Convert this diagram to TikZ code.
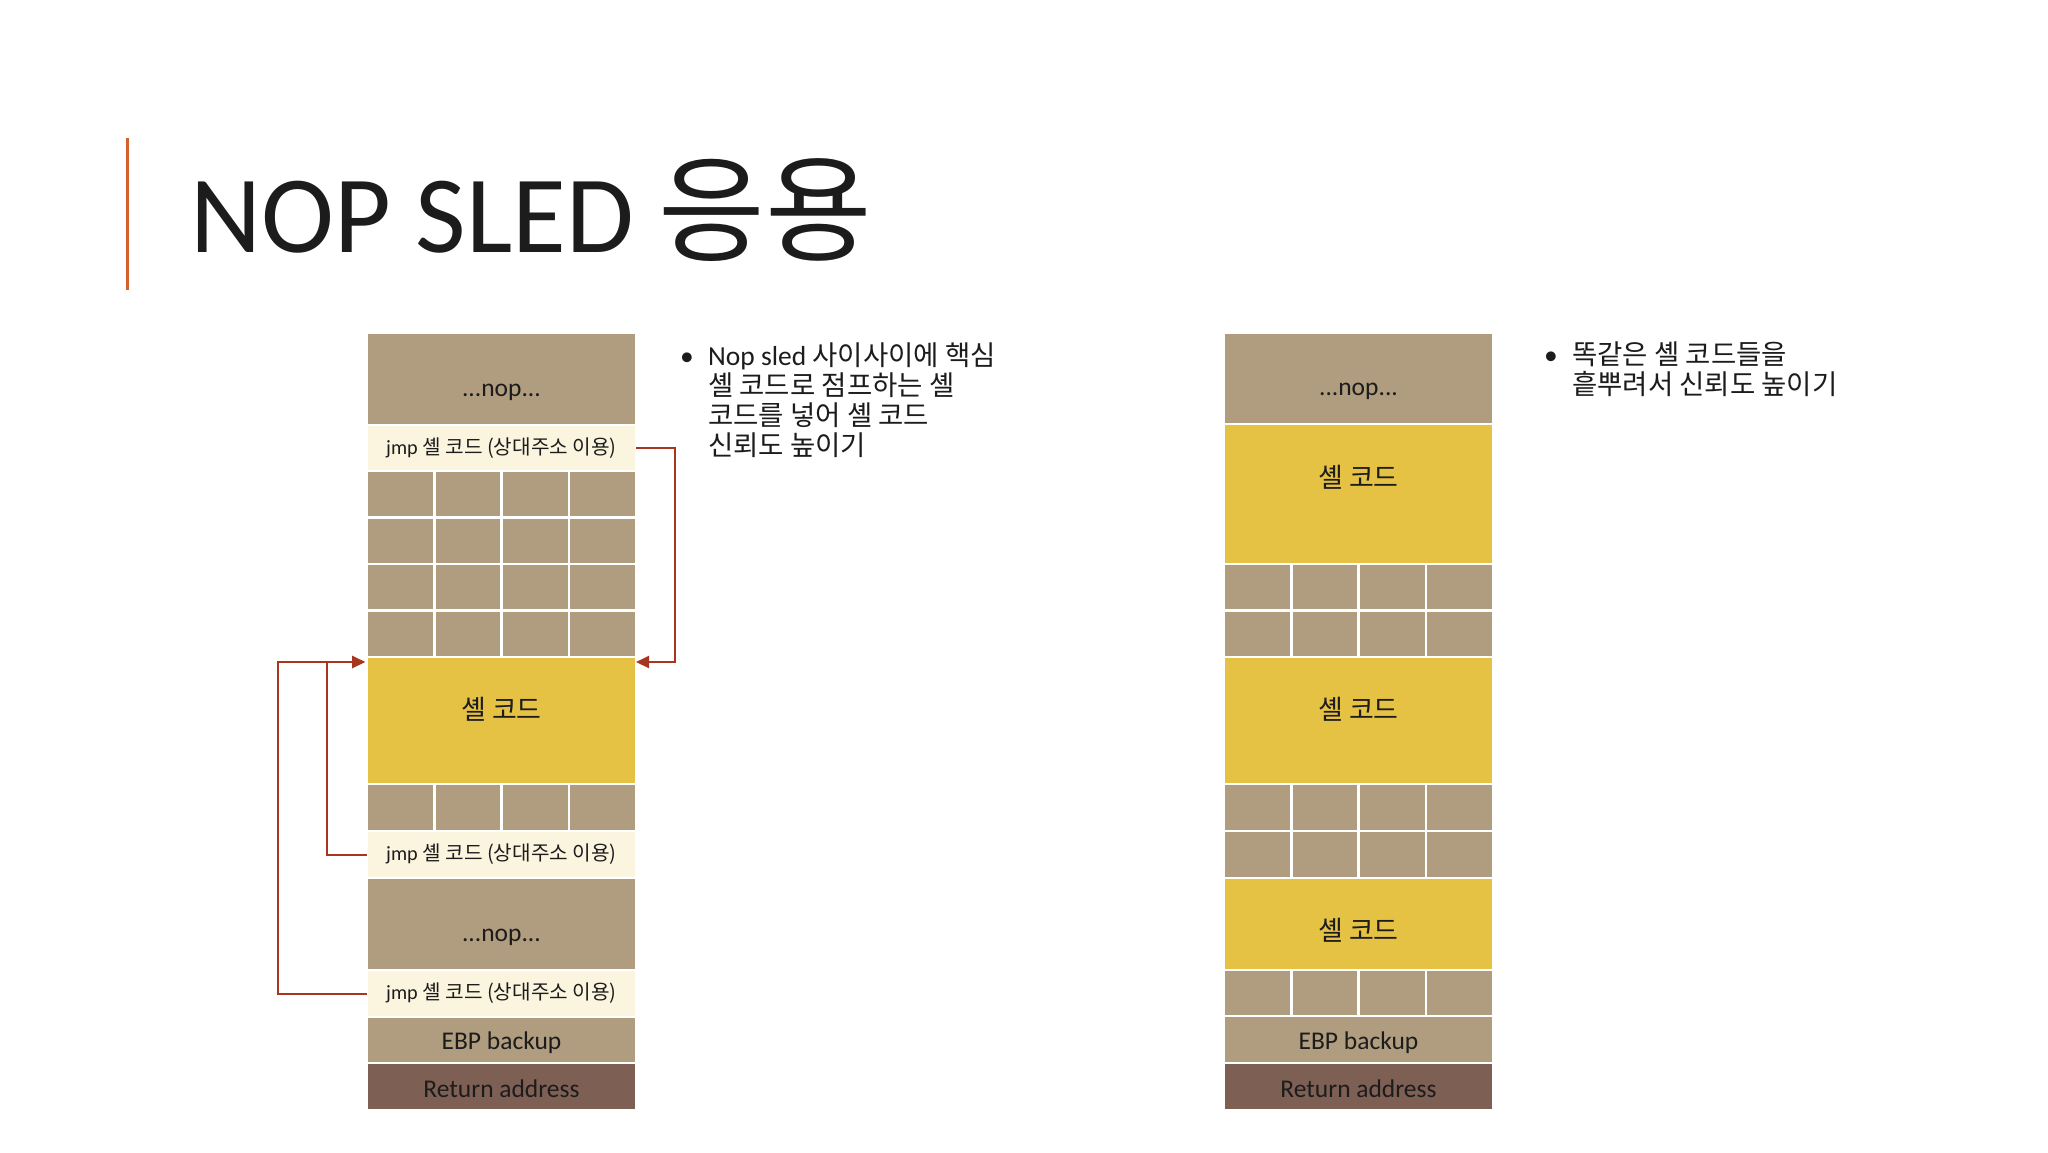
\documentclass[tikz,border=0pt]{standalone}
\usepackage{fontspec}
\setmainfont{Carlito}
\newfontfamily\kr{Noto Sans CJK KR}
\usetikzlibrary{arrows.meta}
\definecolor{nopcol}{HTML}{B09C7E}
\definecolor{jmpcol}{HTML}{FBF5DF}
\definecolor{yelcol}{HTML}{E5C144}
\definecolor{retcol}{HTML}{7E5F54}
\definecolor{arrowcol}{HTML}{A8361F}
\definecolor{barcol}{HTML}{D4622B}
\definecolor{txtcol}{HTML}{1C1C1C}
\begin{document}
\begin{tikzpicture}[x=1pt,y=-1pt,
  cell/.style={draw=white,line width=2.5pt,inner sep=0pt,outer sep=0pt,anchor=north west,minimum width=269pt},
  nopbox/.style={cell,fill=nopcol},
  jmpbox/.style={cell,fill=jmpcol},
  yelbox/.style={cell,fill=yelcol},
  retbox/.style={cell,fill=retcol},
  gridbox/.style={cell,fill=nopcol,minimum width=67.25pt,minimum height=46.5pt},
  lbl/.style={font=\fontsize{25.5}{30}\selectfont,text=txtcol,inner sep=0pt},
  klbl/.style={font=\fontsize{27}{30}\selectfont\kr,text=txtcol,inner sep=0pt},
  jlbl/.style={font=\fontsize{20.2}{23}\selectfont,text=txtcol,inner sep=0pt},
  btxt/.style={font=\fontsize{27.5}{30}\selectfont,text=txtcol,inner sep=0pt,anchor=base west},
  link/.style={draw=arrowcol,line width=2pt,-{Triangle[length=13pt,width=12pt]}}
]
\useasboundingbox (0,0) rectangle (2048,1152);
\fill[white] (0,0) rectangle (2048,1152);

% title
\draw[barcol,line width=3pt] (127,138) -- (127,290);
\node[anchor=base west,inner sep=0pt,font=\fontsize{110}{130}\selectfont,text=txtcol] (title) at (190,252) {NOP SLED {\kr\fontsize{116}{130}\selectfont 응용}};

% ---------- left stack ----------
\node[nopbox,minimum height=92pt] (nopA) at (367,333) {};
\node[jmpbox,minimum height=46pt] (jmpA) at (367,425) {};
\foreach \r/\yy in {1/471,2/517.5,3/564,4/610.5}
  \foreach \c in {0,...,3}
    \node[gridbox] (gA\r\c) at ({367+67.25*\c},\yy) {};
\node[yelbox,minimum height=127pt] (shellA) at (367,657) {};
\foreach \c in {0,...,3}
  \node[gridbox,minimum height=47pt] (gB\c) at ({367+67.25*\c},784) {};
\node[jmpbox,minimum height=47pt] (jmpB) at (367,831) {};
\node[nopbox,minimum height=92pt] (nopB) at (367,878) {};
\node[jmpbox,minimum height=47pt] (jmpC) at (367,970) {};
\node[nopbox,minimum height=46pt] (ebpA) at (367,1017) {};
\node[retbox,minimum height=47pt] (retA) at (367,1063) {};

\node[lbl] (tnopA) at ([yshift=-13pt]nopA.center) {...nop...};
\node[jlbl] (tjmpA) at (jmpA.center) {jmp {\kr 셸 코드 (상대주소 이용)}};
\node[klbl] (tshA) at ([yshift=11pt]shellA.center) {셸 코드};
\node[jlbl] (tjmpB) at (jmpB.center) {jmp {\kr 셸 코드 (상대주소 이용)}};
\node[lbl] (tnopB) at ([yshift=-13pt]nopB.center) {...nop...};
\node[jlbl] (tjmpC) at (jmpC.center) {jmp {\kr 셸 코드 (상대주소 이용)}};
\node[lbl] (tebpA) at ([yshift=-3pt]ebpA.center) {EBP backup};
\node[lbl] (tretA) at ([yshift=-2pt]retA.center) {Return address};

% arrows
\coordinate (tipR) at ([yshift=-5pt]shellA.north east);
\coordinate (tipL) at ([yshift=-5pt,xshift=-2pt]shellA.north west);
\draw[link] (jmpA.east) -- ++(39,0) |- (tipR);
\draw[link] (jmpB.west) -- ++(-40,0) |- (tipL);
\draw[link] (jmpC.west) -- ++(-89,0) |- (tipL);

% left bullet text
\node[btxt] (bulA) at (680,365) {•};
\node[btxt] (lA1) at (708,365) {Nop sled {\kr 사이사이에 핵심}};
\node[btxt] (lA2) at (708,395) {\kr 셸 코드로 점프하는 셸};
\node[btxt] (lA3) at (708,425) {\kr 코드를 넣어 셸 코드};
\node[btxt] (lA4) at (708,455) {\kr 신뢰도 높이기};

% ---------- right stack ----------
\node[nopbox,minimum height=91pt] (nopR) at (1224,333) {};
\node[yelbox,minimum height=140pt] (sh1) at (1224,424) {};
\foreach \r/\yy in {1/564,2/610.5}
  \foreach \c in {0,...,3}
    \node[gridbox] (gR\r\c) at ({1224+67.25*\c},\yy) {};
\node[yelbox,minimum height=127pt] (sh2) at (1224,657) {};
\foreach \r/\yy in {3/784,4/831}
  \foreach \c in {0,...,3}
    \node[gridbox,minimum height=47pt] (gR\r\c) at ({1224+67.25*\c},\yy) {};
\node[yelbox,minimum height=92pt] (sh3) at (1224,878) {};
\foreach \c in {0,...,3}
  \node[gridbox,minimum height=46pt] (gR5\c) at ({1224+67.25*\c},970) {};
\node[nopbox,minimum height=47pt] (ebpR) at (1224,1016) {};
\node[retbox,minimum height=47pt] (retR) at (1224,1063) {};

\node[lbl] (tnopR) at ([yshift=-13pt]nopR.center) {...nop...};
\node[klbl] (tsh1) at ([yshift=17pt]sh1.center) {셸 코드};
\node[klbl] (tsh2) at ([yshift=11pt]sh2.center) {셸 코드};
\node[klbl] (tsh3) at ([yshift=-6pt]sh3.center) {셸 코드};
\node[lbl] (tebpR) at ([yshift=-3pt]ebpR.center) {EBP backup};
\node[lbl] (tretR) at ([yshift=-2pt]retR.center) {Return address};

% right bullet text
\node[btxt] (bulR) at (1544,364) {•};
\node[btxt] (lR1) at (1572,364) {\kr 똑같은 셸 코드들을};
\node[btxt] (lR2) at (1572,394) {\kr 흩뿌려서 신뢰도 높이기};
\end{tikzpicture}
\end{document}
